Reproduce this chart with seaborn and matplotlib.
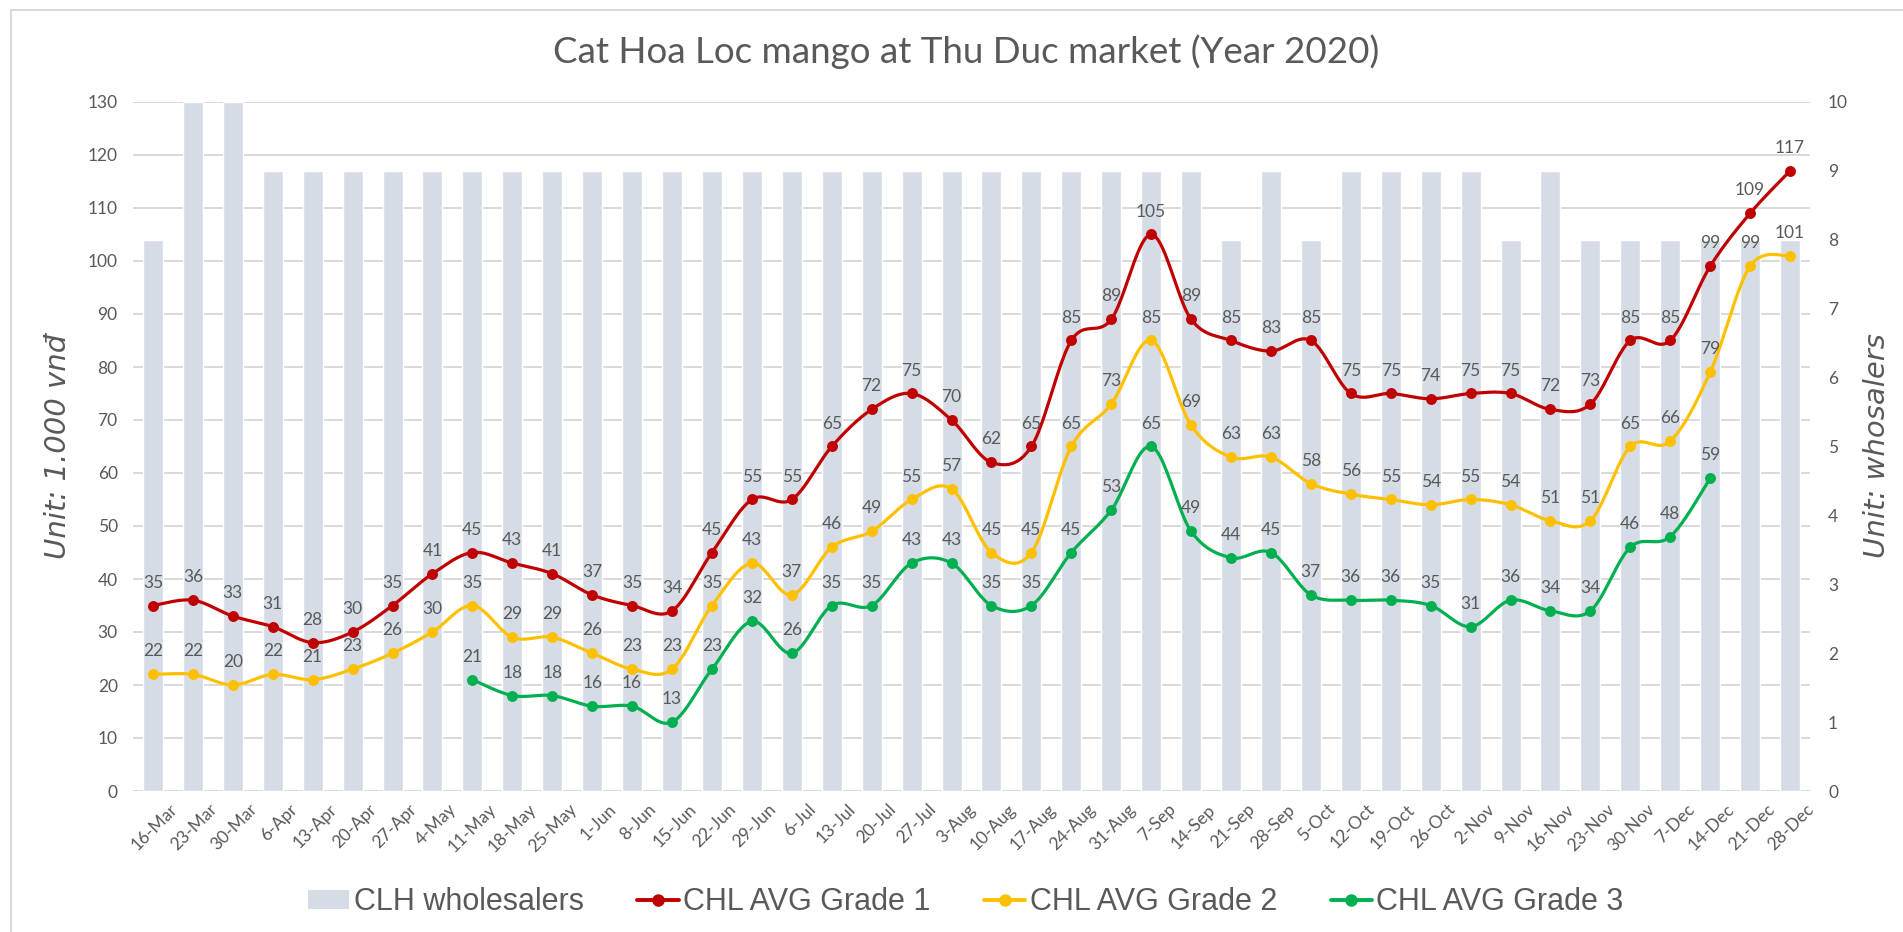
import numpy as np
import pandas as pd
import matplotlib
matplotlib.use("Agg")
import matplotlib.pyplot as plt
import matplotlib.transforms as mtransforms
import seaborn as sns
from matplotlib.lines import Line2D
from matplotlib.patches import Patch

# ---------------- data ----------------
weeks = ["16-Mar", "23-Mar", "30-Mar", "6-Apr", "13-Apr", "20-Apr", "27-Apr", "4-May",
         "11-May", "18-May", "25-May", "1-Jun", "8-Jun", "15-Jun", "22-Jun", "29-Jun",
         "6-Jul", "13-Jul", "20-Jul", "27-Jul", "3-Aug", "10-Aug", "17-Aug", "24-Aug",
         "31-Aug", "7-Sep", "14-Sep", "21-Sep", "28-Sep", "5-Oct", "12-Oct", "19-Oct",
         "26-Oct", "2-Nov", "9-Nov", "16-Nov", "23-Nov", "30-Nov", "7-Dec", "14-Dec",
         "21-Dec", "28-Dec"]

wholesalers = [8, 10, 10, 9, 9, 9, 9, 9, 9, 9, 9, 9, 9, 9, 9, 9, 9, 9, 9, 9, 9,
               9, 9, 9, 9, 9, 9, 8, 9, 8, 9, 9, 9, 9, 8, 9, 8, 8, 8, 8, 8, 8]

grade1 = [35, 36, 33, 31, 28, 30, 35, 41, 45, 43, 41, 37, 35, 34, 45, 55, 55, 65, 72, 75,
          70, 62, 65, 85, 89, 105, 89, 85, 83, 85, 75, 75, 74, 75, 75, 72, 73, 85, 85, 99,
          109, 117]

grade2 = [22, 22, 20, 22, 21, 23, 26, 30, 35, 29, 29, 26, 23, 23, 35, 43, 37, 46, 49, 55,
          57, 45, 45, 65, 73, 85, 69, 63, 63, 58, 56, 55, 54, 55, 54, 51, 51, 65, 66, 79,
          99, 101]

grade3 = [None] * 8 + [21, 18, 18, 16, 16, 13, 23, 32, 26, 35, 35, 43, 43, 35, 35, 45, 53,
                       65, 49, 44, 45, 37, 36, 36, 35, 31, 36, 34, 34, 46, 48, 59] + [None] * 2

series_names = ["CHL AVG Grade 1", "CHL AVG Grade 2", "CHL AVG Grade 3"]
bar_name = "CLH wholesalers"

# ---------------- style ----------------
TXT = "#595959"
GRID = "#D9D9D9"
BAR = "#D6DCE5"
COLORS = ["#C00000", "#FFC000", "#00B050"]

sns.set_theme(style="white")
plt.rcParams["font.family"] = ["Lato", "DejaVu Sans"]

W, H = 1903, 932
fig = plt.figure(figsize=(W / 100, H / 100), dpi=100)
fig.patch.set_facecolor("white")

L, R, T, B = 133, 1810, 102, 791
ax_line = fig.add_axes([L / W, 1 - B / H, (R - L) / W, (B - T) / H])
ax_bar = ax_line.twinx()
ax_line.set_zorder(ax_bar.get_zorder() + 1)
ax_line.patch.set_visible(False)

# ---------------- bars (right axis) ----------------
df_bar = pd.DataFrame({"week": weeks, "n": wholesalers})
sns.barplot(data=df_bar, x="week", y="n", order=weeks, ax=ax_bar, color=BAR,
            saturation=1, width=0.5, zorder=2)
ax_bar.set_ylim(0, 10)
ax_bar.set_yticks(range(0, 11))
left_ticks = list(range(0, 131, 10))
for t in left_ticks:
    ax_bar.axhline(t / 13.0, color=GRID, lw=1.4, zorder=0)

# ---------------- smoothed lines (left axis) ----------------
def smooth(x, y, n=24):
    x = np.asarray(x, float)
    y = np.asarray(y, float)
    if len(x) < 2:
        return x, y
    px = np.concatenate([[x[0]], x, [x[-1]]])
    py = np.concatenate([[y[0]], y, [y[-1]]])
    xs, ys = [], []
    t = np.linspace(0, 1, n)
    for i in range(1, len(px) - 2):
        p0x, p1x, p2x, p3x = px[i - 1], px[i], px[i + 1], px[i + 2]
        p0y, p1y, p2y, p3y = py[i - 1], py[i], py[i + 1], py[i + 2]
        c1x, c1y = p1x + (p2x - p0x) / 6, p1y + (p2y - p0y) / 6
        c2x, c2y = p2x - (p3x - p1x) / 6, p2y - (p3y - p1y) / 6
        bx = (1 - t) ** 3 * p1x + 3 * (1 - t) ** 2 * t * c1x + 3 * (1 - t) * t ** 2 * c2x + t ** 3 * p2x
        by = (1 - t) ** 3 * p1y + 3 * (1 - t) ** 2 * t * c1y + 3 * (1 - t) * t ** 2 * c2y + t ** 3 * p2y
        if i > 1:
            bx, by = bx[1:], by[1:]
        xs.append(bx)
        ys.append(by)
    return np.concatenate(xs), np.concatenate(ys)

for vals, col in zip([grade1, grade2, grade3], COLORS):
    idx = [i for i, v in enumerate(vals) if v is not None]
    v = [vals[i] for i in idx]
    sx, sy = smooth(idx, v)
    sns.lineplot(x=sx, y=sy, ax=ax_line, color=col, linewidth=2.3, sort=False,
                 estimator=None, zorder=3)
    sns.scatterplot(x=idx, y=v, ax=ax_line, color=col, s=62, edgecolor=col,
                    linewidth=0, zorder=4)
    for i, val in zip(idx, v):
        ax_line.annotate(f"{val:.0f}", (i, val), xytext=(0, 16.5), textcoords="offset points",
                         ha="center", va="center", fontsize=12.5, color=TXT, zorder=5)

ax_line.set_ylim(0, 130)
ax_line.set_yticks(left_ticks)
ax_line.set_xlim(-0.5, len(weeks) - 0.5)
ax_bar.set_xlim(-0.5, len(weeks) - 0.5)
ax_line.set_xticks(range(len(weeks)))
ax_line.set_xticklabels(weeks, rotation=45, ha="right", rotation_mode="anchor")

for a in (ax_line, ax_bar):
    for s in a.spines.values():
        s.set_visible(False)
    a.set_xlabel("")
    a.set_ylabel("")
    a.grid(False)

ax_line.tick_params(axis="y", length=0, pad=11, labelsize=12.5, labelcolor=TXT)
ax_line.tick_params(axis="x", length=0, pad=6, labelsize=12.5, labelcolor=TXT)
ax_bar.tick_params(axis="y", length=0, pad=13, labelsize=12.5, labelcolor=TXT)
shift = mtransforms.ScaledTranslation(16 / 100, -2 / 100, fig.dpi_scale_trans)
for lab in ax_line.get_xticklabels():
    lab.set_transform(lab.get_transform() + shift)

# ---------------- text ----------------
fig.text(966 / W, 1 - 52 / H, "Cat Hoa Loc mango at Thu Duc market (Year 2020)",
         ha="center", va="center", fontsize=26.5, color=TXT)
fig.text(58 / W, 1 - 446 / H, "Unit: 1.000 vnđ", rotation=90, ha="center", va="center",
         fontsize=21, style="italic", color=TXT, family="DejaVu Sans")
fig.text(1877 / W, 1 - 446 / H, "Unit: whosalers", rotation=90, ha="center", va="center",
         fontsize=21, style="italic", color=TXT, family="DejaVu Sans")

# ---------------- legend ----------------
handles = [Patch(facecolor=BAR, edgecolor="none", label=bar_name)]
for name, col in zip(series_names, COLORS):
    handles.append(Line2D([0], [0], color=col, lw=2.8, marker="o", markersize=8,
                          label=name))
leg = fig.legend(handles=handles, loc="center", bbox_to_anchor=(966 / W, 1 - 902 / H),
                 ncol=4, frameon=False, handlelength=1.35, handleheight=0.6,
                 handletextpad=0.15, columnspacing=1.75,
                 prop={"family": "Liberation Sans", "size": 22})
for t in leg.get_texts():
    t.set_color(TXT)

# ---------------- chart border ----------------
fig.add_artist(Line2D([11 / W, 1.0], [1 - 10 / H, 1 - 10 / H], transform=fig.transFigure,
                      color=GRID, lw=1.5))
fig.add_artist(Line2D([11 / W, 11 / W], [1 - 10 / H, 0.0], transform=fig.transFigure,
                      color=GRID, lw=1.5))

fig.savefig("out.png", dpi=100, facecolor="white")
